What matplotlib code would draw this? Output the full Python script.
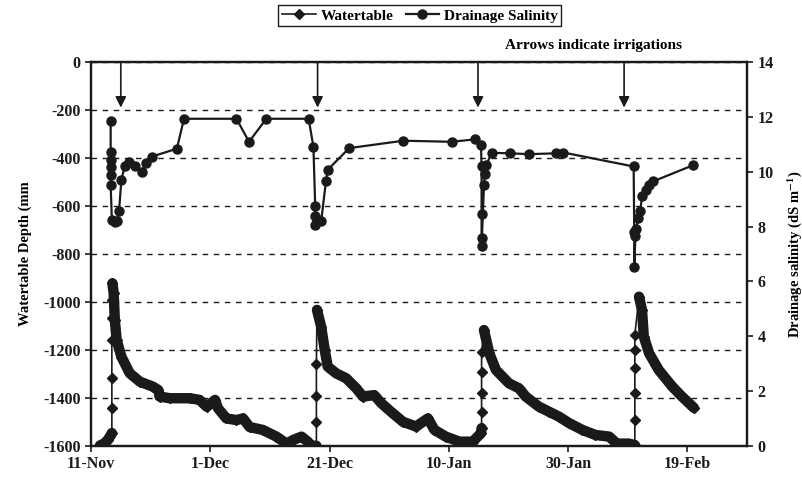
import numpy as np
import matplotlib
matplotlib.use("Agg")
import matplotlib.pyplot as plt

# Days after 11-Nov
tick_days = [0, 20, 40, 60, 80, 100]
tick_labels = ["11-Nov", "1-Dec", "21-Dec", "10-Jan", "30-Jan", "19-Feb"]

# Irrigation dates (arrows)
irrig_days = [5.0, 38.0, 64.9, 89.4]

# Watertable depth (mm)
wt_days = [1.5, 2.2, 2.8, 3.2, 3.5, 3.5, 3.5, 3.5, 3.5, 3.5, 3.6,
           3.8, 4.0, 4.3, 5.1, 6.5, 8.2, 10.4, 11.3, 11.5, 13.2, 16.6,
           18.2, 19.4, 20.8, 21.3, 22.7, 24.4, 25.5, 26.6, 28.8, 31.1,
           32.8, 33.9, 35.3, 36.4, 37.0, 37.8,
           37.8, 37.8, 37.8, 37.9,
           38.6, 39.2, 39.7, 41.1, 42.8, 44.5, 45.6, 47.5, 48.7, 50.3,
           52.3, 54.5, 56.5, 57.6, 59.5, 61.8, 64.0, 65.4,
           65.5, 65.5, 65.5, 65.5, 65.5, 65.9,
           66.8, 67.9, 70.1, 71.8, 72.9, 75.1, 76.8, 78.5, 80.2, 82.4,
           84.6, 86.9, 88.2, 90.2, 91.2,
           91.2, 91.2, 91.2, 91.2, 91.2, 91.9,
           92.4, 92.7, 93.6, 95.2, 97.5, 99.1, 101.1]
wt_depth = [-1598, -1590, -1575, -1560, -1546, -1442, -1317, -1158, -1067, -992, -922,
            -963, -1075, -1158, -1228, -1297, -1332, -1353, -1367, -1394, -1401, -1401,
            -1408, -1436, -1408, -1443, -1485, -1492, -1485, -1521, -1533, -1561,
            -1590, -1575, -1561, -1583, -1600, -1599,
            -1501, -1390, -1258, -1033,
            -1103, -1200, -1269, -1297, -1318, -1360, -1394, -1388, -1422, -1457,
            -1499, -1519, -1485, -1533, -1561, -1582, -1582, -1547,
            -1526, -1457, -1380, -1290, -1207, -1117,
            -1214, -1283, -1339, -1360, -1394, -1436, -1457, -1478, -1505, -1533,
            -1554, -1561, -1590, -1590, -1596,
            -1492, -1380, -1276, -1200, -1137, -978,
            -1033, -1144, -1214, -1283, -1353, -1394, -1441]

# Drainage salinity (dS/m)
sal_days = [3.3, 3.3, 3.3, 3.3, 3.3, 3.3, 3.5, 4.0, 4.3, 4.7, 5.1, 5.7, 6.4,
            7.4, 8.5, 9.2, 10.2, 14.4, 15.6, 24.4, 26.5, 29.4, 36.5,
            37.3, 37.6, 37.6, 37.5, 37.9, 38.6, 39.4, 39.7, 43.3, 52.4,
            60.5, 64.4, 65.4, 65.5, 65.5, 65.5, 65.5, 65.9, 66.0, 66.3,
            67.2, 70.2, 73.5, 78.0, 79.2, 91.0, 91.1, 91.1, 91.3, 91.4,
            91.8, 92.1, 92.4, 93.0, 93.6, 94.3, 100.9]
sal_values = [11.85, 10.73, 10.44, 10.18, 9.89, 9.53, 8.25, 8.15, 8.2, 8.55, 9.71, 10.22, 10.36,
              10.22, 10.0, 10.33, 10.55, 10.84, 11.93, 11.93, 11.09, 11.93, 11.93,
              10.91, 8.76, 8.4, 8.07, 8.2, 8.19, 9.65, 10.07, 10.86, 11.13,
              11.09, 11.18, 10.98, 10.2, 8.44, 7.59, 7.28, 9.5, 9.9, 10.25,
              10.69, 10.67, 10.64, 10.67, 10.7, 10.19, 7.8, 6.51, 7.65, 7.9,
              8.33, 8.56, 9.1, 9.35, 9.53, 9.65, 10.23]

plt.rcParams["font.family"] = ["Liberation Serif", "DejaVu Serif"]
plt.rcParams["font.weight"] = "bold"
plt.rcParams["axes.labelweight"] = "bold"
plt.rcParams["axes.unicode_minus"] = False
plt.rcParams["mathtext.fontset"] = "stix"

ink = "#1a1a1a"

fig = plt.figure(figsize=(8.03, 4.79), dpi=100)
ax = fig.add_axes([0.1133, 0.0689, 0.8169, 0.8017])
ax2 = ax.twinx()

# watertable: thin line with diamonds, dense recession drawn as a thick band
wt_line, = ax.plot(wt_days, wt_depth, color=ink, lw=1.2, marker="D", ms=5.5, zorder=3)
d = np.array(wt_depth, dtype=float)
up = np.diff(d) > 50
in_rise = np.zeros(len(d), bool)
in_rise[1:-1] = up[:-1] & up[1:]
thick = np.where(in_rise, np.nan, d)
ax.plot(wt_days, thick, color=ink, lw=7.5, solid_capstyle="round",
        solid_joinstyle="round", zorder=3)

sal_line, = ax2.plot(sal_days, sal_values, color=ink, lw=1.6, marker="o", ms=6.5)

ax.set_xlim(0, 110)
ax.set_ylim(-1600, 0)
ax.set_yticks(range(-1600, 1, 200))
ax.set_xticks(tick_days)
ax.set_xticklabels(tick_labels)
ax2.set_ylim(0, 14)
ax2.set_yticks(range(0, 15, 2))

ax.yaxis.grid(True, linestyle=(0, (4, 4)), color=ink, lw=1)
ax.set_axisbelow(True)

for a in (ax, ax2):
    for s in a.spines.values():
        s.set_linewidth(1.6)
        s.set_color(ink)
    a.tick_params(direction="out", length=4, width=1.2, labelsize=11.5, colors=ink)

ax.set_ylabel("Watertable Depth (mm", fontsize=10.5, labelpad=8)
ax2.set_ylabel(r"Drainage salinity (dS m$^{\mathbf{-1}}$)", fontsize=10.5, labelpad=8)

# irrigation arrows
for day in irrig_days:
    ax.annotate("", xy=(day, -190), xytext=(day, 0),
                arrowprops=dict(arrowstyle="-|>", color=ink, lw=1.2,
                                mutation_scale=16, shrinkA=0, shrinkB=0))

fig.text(0.849, 0.906, "Arrows indicate irrigations", ha="right", va="center",
         fontsize=11, fontweight="bold")

fig.legend(handles=[wt_line, sal_line], labels=["Watertable", "Drainage Salinity"],
           loc="center", bbox_to_anchor=(0.523, 0.967), ncol=2, frameon=True,
           fancybox=False, edgecolor=ink, framealpha=1, fontsize=11,
           handlelength=2.2, columnspacing=0.8, handletextpad=0.3, borderpad=0.25)

fig.savefig("out.png", dpi=100)
